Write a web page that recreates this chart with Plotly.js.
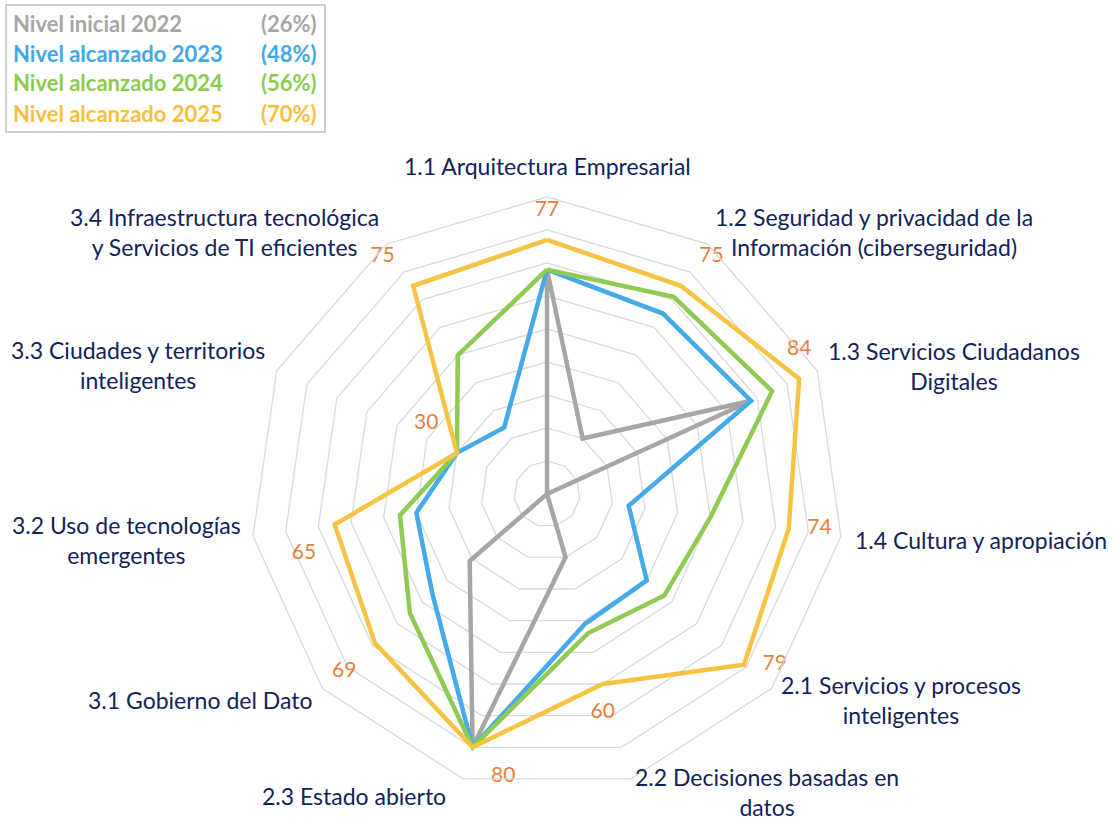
<!DOCTYPE html>
<html><head><meta charset="utf-8">
<script src="https://cdn.plot.ly/plotly-3.0.1.min.js"></script>
<style>html,body{margin:0;padding:0;background:#fff}#chart{width:1113px;height:820px}</style>
</head><body><div id="chart"></div>
<script>
// ---- data ----
const categories = [
  "1.1 Arquitectura Empresarial",
  "1.2 Seguridad y privacidad de la Información (ciberseguridad)",
  "1.3 Servicios Ciudadanos Digitales",
  "1.4 Cultura y apropiación",
  "2.1 Servicios y procesos inteligentes",
  "2.2 Decisiones basadas en datos",
  "2.3 Estado abierto",
  "3.1 Gobierno del Dato",
  "3.2 Uso de tecnologías emergentes",
  "3.3 Ciudades y territorios inteligentes",
  "3.4 Infraestructura tecnológica y Servicios de TI eficientes"
];
const categoryLabels = [
  "1.1 Arquitectura Empresarial",
  "1.2 Seguridad y privacidad de la<br>Información (ciberseguridad)",
  "1.3 Servicios Ciudadanos<br>Digitales",
  "1.4 Cultura y apropiación",
  "2.1 Servicios y procesos<br>inteligentes",
  "2.2 Decisiones basadas en<br>datos",
  "2.3 Estado abierto",
  "3.1 Gobierno del Dato",
  "3.2 Uso de tecnologías<br>emergentes",
  "3.3 Ciudades y territorios<br>inteligentes",
  "3.4 Infraestructura tecnológica<br>y Servicios de TI eficientes"
];
const seriesNames = ["Nivel inicial 2022", "Nivel alcanzado 2023", "Nivel alcanzado 2024", "Nivel alcanzado 2025"];
const seriesPercent = ["(26%)", "(48%)", "(56%)", "(70%)"];
const nivel2022 = [68, 20, 68, 0, 0, 20, 80, 31, 0, 0, 0];
const nivel2023 = [68, 65, 68, 25, 40, 41, 80, 46, 40, 30, 24];
const nivel2024 = [68, 71, 75, 50, 47, 44, 80, 55, 45, 30, 50];
const nivel2025 = [77, 75, 84, 74, 79, 60, 80, 69, 65, 30, 75];

// ---- styles / layout ----
const W = 1113, H = 820;
const colors = ["#a6a6a6", "#45aaea", "#8fcb52", "#f7c342"];
const legendColors = ["#a6a6a6", "#41a8e8", "#8ccb4f", "#f7c03c"];
const labelColor = "#e4803c";
const catColor = "#13235a";
const FONT = "Lato, Carlito, Calibri, 'Open Sans', sans-serif";
const labelPositions = ["top center", "top right", "top center", "middle right", "middle right",
  "bottom center", "bottom right", "bottom left", "bottom left", "top left", "top left"];
// category label anchor positions in pixels (center of text block)
const catPos = [[547,166],[874,232],[954,366],[981,540],[901,700],[767,792],[354,796],[200,700],[126,540],[138,365],[224,232]];

const allSeries = [nivel2022, nivel2023, nivel2024, nivel2025];
const close = a => a.concat([a[0]]);

const traces = allSeries.map((vals, i) => ({
  type: "scatterpolar",
  r: close(vals),
  theta: close(categories),
  mode: "lines",
  name: seriesNames[i],
  line: {color: colors[i], width: 4.5},
  hoverinfo: "skip",
  showlegend: false
}));

traces.push({
  type: "scatterpolar",
  r: nivel2025,
  theta: categories,
  mode: "markers+text",
  text: nivel2025.map(String),
  textposition: labelPositions,
  textfont: {family: FONT, size: 21, color: labelColor},
  marker: {size: 28, color: "rgba(0,0,0,0)"},
  hoverinfo: "skip",
  showlegend: false
});

const cx = 547, cy = 494, R = 297;
const px = x => x / W, py = y => 1 - y / H;

const annotations = [];
categoryLabels.forEach((t, i) => {
  annotations.push({
    xref: "paper", yref: "paper", x: px(catPos[i][0]), y: py(catPos[i][1]),
    xanchor: "center", yanchor: "middle", text: t, showarrow: false, align: "center",
    font: {family: FONT, size: 23, color: catColor}
  });
});
const legendRowY = [23, 53, 83, 113];
seriesNames.forEach((n, i) => {
  annotations.push({
    xref: "paper", yref: "paper", x: px(11), y: py(legendRowY[i]),
    xanchor: "left", yanchor: "middle", text: "<b>" + n + "</b>", showarrow: false,
    font: {family: FONT, size: 22, color: legendColors[i]}
  });
  annotations.push({
    xref: "paper", yref: "paper", x: px(319), y: py(legendRowY[i]),
    xanchor: "right", yanchor: "middle", text: "<b>" + seriesPercent[i] + "</b>", showarrow: false,
    font: {family: FONT, size: 22, color: legendColors[i]}
  });
});

const layout = {
  width: W, height: H,
  margin: {l: 0, r: 0, t: 0, b: 0},
  paper_bgcolor: "#fff",
  showlegend: false,
  polar: {
    domain: {x: [px(cx - R), px(cx + R)], y: [py(cy + R), py(cy - R)]},
    bgcolor: "rgba(0,0,0,0)",
    gridshape: "linear",
    radialaxis: {range: [0, 90], dtick: 10, showticklabels: false, ticks: "", showline: false,
      gridcolor: "#d9d9d9", gridwidth: 1.3},
    angularaxis: {rotation: 90, direction: "clockwise", showticklabels: false, ticks: "",
      showgrid: false, showline: true, linecolor: "#d9d9d9", linewidth: 1.3}
  },
  shapes: [{type: "rect", xref: "paper", yref: "paper", x0: px(6), x1: px(325), y0: py(132), y1: py(5),
    line: {color: "#bfbfbf", width: 1.5}, fillcolor: "rgba(0,0,0,0)"}],
  annotations: annotations
};

Plotly.newPlot("chart", traces, layout, {displayModeBar: false, staticPlot: true});
</script>
</body></html>
